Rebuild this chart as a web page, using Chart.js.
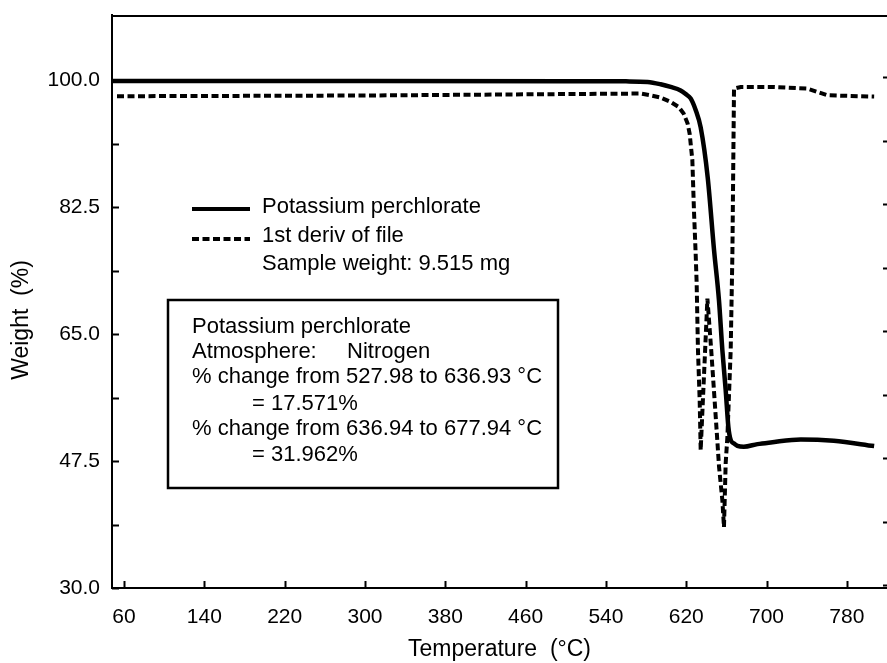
<!DOCTYPE html>
<html>
<head>
<meta charset="utf-8">
<script src="https://cdn.jsdelivr.net/npm/chart.js@4/dist/chart.umd.min.js"></script>
<style>
  html, body { margin: 0; padding: 0; background: #fff; }
  #wrap { width: 887px; height: 663px; }
</style>
</head>
<body>
<div id="wrap"><canvas id="tga" width="887" height="663"></canvas></div>
<script>
// Thermogravimetric run of potassium perchlorate under nitrogen.
const seriesNames = ['Potassium perchlorate', '1st deriv of file'];

// Weight trace (temperature in °C, weight in %)
const weightTemp = [48, 300, 500, 560, 581.5, 594.5, 604.5, 614.4, 619.4, 624.4, 629.4, 634.4, 641.4,
  647.7, 652.6, 656.0, 659.3, 662.0, 664.3, 667.3, 671.0, 677.3, 691.0, 704.2, 734.1, 767.0, 807.2];
const weightPct = [99.9, 99.9, 99.88, 99.85, 99.77, 99.45, 99.08, 98.6, 98.1, 97.5, 95.9, 93.5, 86.6,
  76.6, 69.7, 62.8, 57.3, 52.2, 50.4, 49.95, 49.6, 49.47, 49.84, 50.07, 50.49, 50.3, 49.57];

// First-derivative trace, drawn on the same axis
const derivTemp = [53, 300, 500, 574.6, 584.5, 594.5, 604.5, 612.5, 617.4, 621.4, 623.4, 626.1, 627.7,
  629.4, 630.4, 631.7, 633.4, 634.4, 641.1, 644.9, 649.4, 652.7, 656.0, 657.6, 659.3, 661.0, 664.3,
  666.0, 667.6, 674.3, 707.5, 740.8, 750.7, 760.7, 807.2];
const derivVal = [97.8, 97.9, 98.1, 98.17, 97.93, 97.62, 97.01, 96.32, 95.41, 94.03, 92.66, 89.0, 82.1,
  76.1, 72.0, 62.8, 55.9, 49.0, 69.9, 62.8, 53.6, 46.7, 42.1, 38.4, 47.2, 50.8, 62.8,
  76.1, 98.85, 99.08, 99.08, 98.85, 98.39, 97.93, 97.75];

// Axis ticks
const xTicks = [60, 140, 220, 300, 380, 460, 540, 620, 700, 780];
const yTicks = [30.0, 47.5, 65.0, 82.5, 100.0];
const yMinorTicks = [38.75, 56.25, 73.75, 91.25];

const xTitle = 'Temperature  (°C)';
const yTitle = 'Weight  (%)';
const sampleNote = 'Sample weight: 9.515 mg';
const infoLines = [
  'Potassium perchlorate',
  'Atmosphere:',
  '% change from 527.98 to 636.93 °C',
  '= 17.571%',
  '% change from 636.94 to 677.94 °C',
  '= 31.962%'
];
const atmosphereGas = 'Nitrogen';

const FONT = '"Liberation Sans", Arial, Helvetica, sans-serif';
const INK = '#000';

const toPoints = (xs, ys) => xs.map((x, i) => ({ x, y: ys[i] }));

// Frame, inward tick marks, in-plot legend and the info box
const decorations = {
  id: 'decorations',
  afterDraw(chart) {
    const { ctx, chartArea: a, scales: { x, y } } = chart;
    ctx.save();
    ctx.strokeStyle = INK;
    ctx.fillStyle = INK;

    // top frame line
    ctx.lineWidth = 2;
    ctx.beginPath();
    ctx.moveTo(a.left, a.top + 1);
    ctx.lineTo(a.right, a.top + 1);
    ctx.stroke();

    // left ticks (major + minor), pointing into the plot
    ctx.lineWidth = 2;
    [...yTicks, ...yMinorTicks].forEach(v => {
      const py = Math.round(y.getPixelForValue(v)) + 0.5;
      ctx.beginPath();
      ctx.moveTo(a.left, py);
      ctx.lineTo(a.left + 7, py);
      ctx.stroke();
      // small marks of the right-hand axis
      ctx.beginPath();
      ctx.moveTo(a.right - 4, py - 3);
      ctx.lineTo(a.right, py - 3);
      ctx.stroke();
    });

    // bottom ticks, pointing up
    xTicks.forEach(v => {
      const px = Math.round(x.getPixelForValue(v)) + 0.5;
      ctx.beginPath();
      ctx.moveTo(px, a.bottom);
      ctx.lineTo(px, a.bottom - 7);
      ctx.stroke();
    });

    // y axis title
    ctx.save();
    ctx.translate(22, 320);
    ctx.rotate(-Math.PI / 2);
    ctx.font = '23px ' + FONT;
    ctx.textAlign = 'center';
    ctx.textBaseline = 'middle';
    ctx.fillText(yTitle, 0, 0);
    ctx.restore();

    // legend inside the plot
    const ds = chart.data.datasets;
    ctx.font = '22px ' + FONT;
    ctx.textAlign = 'left';
    ctx.textBaseline = 'middle';
    ctx.lineWidth = 4;
    ctx.setLineDash([]);
    ctx.beginPath();
    ctx.moveTo(192, 209);
    ctx.lineTo(250, 209);
    ctx.stroke();
    ctx.fillText(ds[0].label, 262, 207);
    ctx.setLineDash(ds[1].borderDash);
    ctx.beginPath();
    ctx.moveTo(192, 239);
    ctx.lineTo(250, 239);
    ctx.stroke();
    ctx.setLineDash([]);
    ctx.fillText(ds[1].label, 262, 236);
    ctx.fillText(sampleNote, 262, 264);

    // info box
    ctx.lineWidth = 2.5;
    ctx.strokeRect(168, 300, 390, 188);
    const rowsY = [327, 352, 377, 404, 429, 455];
    infoLines.forEach((t, i) => {
      const indent = t.startsWith('=') ? 252 : 192;
      ctx.fillText(t, indent, rowsY[i]);
    });
    ctx.fillText(atmosphereGas, 347, rowsY[1]);

    ctx.restore();
  }
};

new Chart(document.getElementById('tga'), {
  type: 'line',
  data: {
    datasets: [
      {
        label: seriesNames[0],
        data: toPoints(weightTemp, weightPct),
        borderColor: INK,
        borderWidth: 4.5,
        pointRadius: 0,
        cubicInterpolationMode: 'monotone',
        fill: false
      },
      {
        label: seriesNames[1],
        data: toPoints(derivTemp, derivVal),
        borderColor: INK,
        borderWidth: 4,
        borderDash: [7, 3.5],
        borderCapStyle: 'butt',
        pointRadius: 0,
        tension: 0,
        fill: false
      }
    ]
  },
  options: {
    responsive: false,
    animation: false,
    devicePixelRatio: 1,
    layout: { padding: { top: 15, right: 0, bottom: 0, left: 0 } },
    plugins: {
      legend: { display: false },
      tooltip: { enabled: false }
    },
    scales: {
      x: {
        type: 'linear',
        position: 'bottom',
        min: 48,
        max: 820,
        afterBuildTicks: s => { s.ticks = xTicks.map(v => ({ value: v })); },
        afterFit: s => { s.height = 75; s.paddingLeft = 0; s.paddingRight = 0; },
        grid: { display: false, drawTicks: false },
        border: { display: true, color: INK, width: 2 },
        ticks: {
          color: INK,
          font: { family: FONT, size: 21 },
          padding: 17,
          maxRotation: 0,
          autoSkip: false,
          callback: v => String(v)
        },
        title: {
          display: true,
          text: xTitle,
          color: INK,
          font: { family: FONT, size: 23 },
          padding: { top: 0, bottom: 0 }
        }
      },
      y: {
        type: 'linear',
        position: 'left',
        min: 30,
        max: 109,
        afterBuildTicks: s => { s.ticks = yTicks.map(v => ({ value: v })); },
        afterFit: s => { s.width = 112; s.paddingTop = 0; s.paddingBottom = 0; },
        grid: { display: false, drawTicks: false },
        border: { display: true, color: INK, width: 2 },
        ticks: {
          color: INK,
          font: { family: FONT, size: 21 },
          padding: 12,
          autoSkip: false,
          callback: v => Number(v).toFixed(1)
        }
      }
    }
  },
  plugins: [decorations]
});
</script>
</body>
</html>
